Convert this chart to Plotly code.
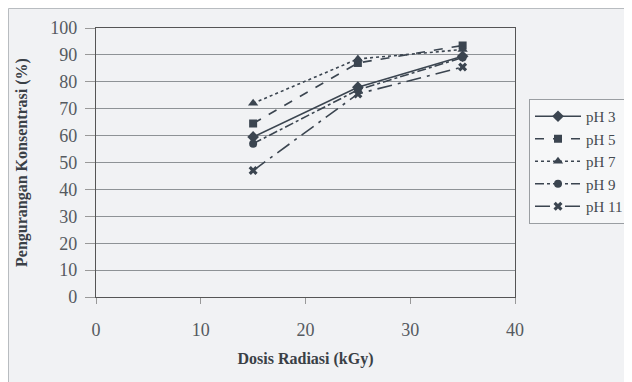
import plotly.graph_objects as go

dose = [15, 25, 35]
ph3 = [59.5, 78, 89.5]
ph5 = [64.5, 87, 93.5]
ph7 = [72, 88.5, 92]
ph9 = [57, 77, 89]
ph11 = [47, 75.5, 85.5]

series = [
    ("pH 3", ph3, "solid", "diamond", 9),
    ("pH 5", ph5, "dash", "square", 8),
    ("pH 7", ph7, "dot", "triangle-up", 9),
    ("pH 9", ph9, "dashdot", "circle", 8),
    ("pH 11", ph11, "longdashdot", "x", 8),
]

col = "#3b4550"
bg = "#f1f2f4"
fig = go.Figure()
for name, ys, dash, sym, sz in series:
    fig.add_trace(go.Scatter(
        x=dose, y=ys, name=name, mode="lines+markers",
        line=dict(color=col, width=1.6, dash=dash),
        marker=dict(symbol=sym, size=sz, color=col),
    ))

fig.update_layout(
    width=624, height=374,
    margin=dict(l=88, r=117, t=20, b=85),
    paper_bgcolor=bg, plot_bgcolor=bg,
    font=dict(family="Liberation Serif, Times New Roman, serif", color="#333a40"),
    showlegend=True,
    legend=dict(xref="container", yref="container",
                x=521 / 624, y=1 - 91 / 374, xanchor="left", yanchor="top",
                bgcolor="#f6f7f8", bordercolor="#9a9ea2", borderwidth=1,
                font=dict(size=15, color="#444a50"),
                tracegroupgap=0, itemwidth=46),
    xaxis=dict(range=[0, 40], dtick=10, tick0=0, showgrid=False, automargin=False,
               showline=True, linecolor="#555", linewidth=1.2, mirror=True,
               ticks="outside", ticklen=6, tickcolor="#999",
               ticklabelstandoff=10,
               tickfont=dict(size=18, color="#555a60"),
               title=dict(text="<b>Dosis Radiasi (kGy)</b>", font=dict(size=16, color="#3a4046"), standoff=14),
               zeroline=False),
    yaxis=dict(range=[0, 100], dtick=10, tick0=0, showgrid=True, automargin=False,
               gridcolor="#8e9296", gridwidth=1,
               showline=True, linecolor="#555", linewidth=1.2, mirror=True,
               ticks="outside", ticklen=10, tickcolor="#999",
               ticklabelstandoff=4,
               tickfont=dict(size=18, color="#555a60"),
               title=dict(text="<b>Pengurangan Konsentrasi (%)</b>", font=dict(size=16, color="#3a4046"), standoff=18),
               zeroline=False),
)
fig.add_shape(type="rect", xref="paper", yref="paper",
              x0=(0.5 - 88) / 419, x1=1.5, y0=-0.5, y1=1 + 19.5 / 269,
              line=dict(color="#b8bcc0", width=1), layer="below")
fig.write_html("out.html")
